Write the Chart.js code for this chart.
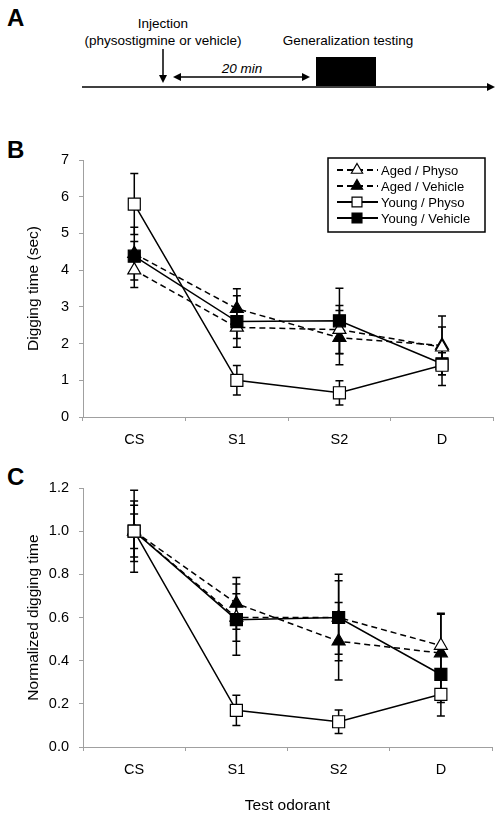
<!DOCTYPE html>
<html>
<head>
<meta charset="utf-8">
<script src="https://cdn.jsdelivr.net/npm/chart.js@4.4.0/dist/chart.umd.min.js"></script>
<style>
body { margin: 0; width: 503px; height: 817px; background: #fff; position: relative; overflow: hidden; }
#art { position: absolute; left: 0; top: 0; }
#boxB { position: absolute; left: 0; top: 115px; width: 503px; height: 335px; }
#boxC { position: absolute; left: 0; top: 455px; width: 503px; height: 362px; }
</style>
</head>
<body>
<svg id="art" width="503" height="817" font-family="Liberation Sans, Arial, sans-serif">
  <text x="7" y="26" font-size="24" font-weight="bold">A</text>
  <text x="7" y="158" font-size="24" font-weight="bold">B</text>
  <text x="7" y="485" font-size="24" font-weight="bold">C</text>

  <text x="163" y="28" font-size="13.5" text-anchor="middle">Injection</text>
  <text x="163" y="45" font-size="13.5" text-anchor="middle">(physostigmine or vehicle)</text>
  <text x="348" y="45" font-size="13.5" text-anchor="middle">Generalization testing</text>
  <text x="242" y="73" font-size="13.5" font-style="italic" text-anchor="middle">20 min</text>

  <line x1="163" y1="49" x2="163" y2="76" stroke="#000" stroke-width="1.5"/>
  <polygon points="159,75 167,75 163,83" fill="#000"/>
  <line x1="180" y1="77" x2="303" y2="77" stroke="#000" stroke-width="1.5"/>
  <polygon points="173,77 181,73 181,81" fill="#000"/>
  <polygon points="310,77 302,73 302,81" fill="#000"/>
  <rect x="316" y="57" width="60" height="29" fill="#000"/>
  <line x1="82" y1="87" x2="488" y2="87" stroke="#000" stroke-width="1.5"/>
  <polygon points="487,83 495,87 487,91" fill="#000"/>
</svg>
<div id="boxB"><canvas id="chartB"></canvas></div>
<div id="boxC"><canvas id="chartC"></canvas></div>
<script>
var categories = ['CS', 'S1', 'S2', 'D'];

// panel B: digging time (sec), means and SEM
var agedPhysoB = [4.0, 2.44, 2.38, 1.9];
var agedPhysoErrB = [0.47, 0.3, 0.66, 0.55];
var agedVehicleB = [4.45, 2.95, 2.16, 1.95];
var agedVehicleErrB = [0.72, 0.54, 0.74, 0.8];
var youngPhysoB = [5.8, 1.0, 0.66, 1.41];
var youngPhysoErrB = [0.83, 0.4, 0.33, 0.55];
var youngVehicleB = [4.38, 2.6, 2.62, 1.45];
var youngVehicleErrB = [0.4, 0.7, 0.89, 0.3];

// panel C: normalized digging time
var agedPhysoC = [1.0, 0.6, 0.6, 0.47];
var agedPhysoErrC = [0.12, 0.11, 0.17, 0.15];
var agedVehicleC = [1.0, 0.665, 0.49, 0.435];
var agedVehicleErrC = [0.19, 0.12, 0.18, 0.18];
var youngPhysoC = [1.0, 0.17, 0.117, 0.244];
var youngPhysoErrC = [0.14, 0.07, 0.055, 0.1];
var youngVehicleC = [1.0, 0.59, 0.6, 0.336];
var youngVehicleErrC = [0.08, 0.165, 0.2, 0.13];

var ticksB = [0, 1, 2, 3, 4, 5, 6, 7];
var ticksC = [0, 0.2, 0.4, 0.6, 0.8, 1.0, 1.2];

var FONT = 'Liberation Sans, Arial, sans-serif';
var AXIS = '#a0a0a0';

// draw vertical error bars under the markers
var errorBars = {
	id: 'errorBars',
	beforeDatasetsDraw: function(chart) {
		var ctx = chart.ctx;
		var y = chart.scales.y;
		chart.data.datasets.forEach(function(ds, i) {
			var meta = chart.getDatasetMeta(i);
			ctx.save();
			ctx.strokeStyle = '#000';
			ctx.lineWidth = 1.5;
			meta.data.forEach(function(pt, j) {
				var top = y.getPixelForValue(ds.data[j] + ds.errors[j]);
				var bot = y.getPixelForValue(ds.data[j] - ds.errors[j]);
				ctx.beginPath();
				ctx.moveTo(pt.x, top); ctx.lineTo(pt.x, bot);
				ctx.moveTo(pt.x - 4, top); ctx.lineTo(pt.x + 4, top);
				ctx.moveTo(pt.x - 4, bot); ctx.lineTo(pt.x + 4, bot);
				ctx.stroke();
			});
			ctx.restore();
		});
	}
};

// boxed legend with line + marker samples
var boxLegend = {
	id: 'boxLegend',
	afterDraw: function(chart, args, opts) {
		if (!opts.show) return;
		var ctx = chart.ctx;
		ctx.save();
		ctx.strokeStyle = '#000';
		ctx.lineWidth = 1.5;
		ctx.strokeRect(opts.x, opts.y, opts.w, opts.h);
		chart.data.datasets.forEach(function(ds, i) {
			var ry = opts.y + opts.rows[i];
			ctx.save();
			ctx.lineWidth = 2;
			ctx.setLineDash(ds.borderDash || []);
			ctx.beginPath();
			ctx.moveTo(opts.x + 9, ry);
			ctx.lineTo(opts.x + 50, ry);
			ctx.stroke();
			ctx.restore();
			ctx.fillStyle = ds.pointBackgroundColor;
			ctx.strokeStyle = '#000';
			ctx.lineWidth = 1.2;
			Chart.helpers.drawPoint(ctx, {
				pointStyle: ds.pointStyle,
				radius: ds.pointStyle === 'rect' ? 7 : 6.5,
				rotation: 0,
				borderWidth: 1.2
			}, opts.x + 29, ry);
			ctx.fillStyle = '#000';
			ctx.font = '13px ' + FONT;
			ctx.textBaseline = 'middle';
			ctx.fillText(ds.label, opts.x + 53, ry + 1);
		});
		ctx.restore();
	}
};

function series(label, data, errors, aged, open, order) {
	return {
		label: label,
		data: data,
		errors: errors,
		order: order,
		borderColor: '#000',
		borderWidth: 1.5,
		borderDash: aged ? [6, 4] : [],
		tension: 0,
		fill: false,
		pointStyle: aged ? 'triangle' : 'rect',
		pointRadius: aged ? 7.5 : 8.5,
		pointBackgroundColor: open ? '#fff' : '#000',
		pointBorderColor: '#000',
		pointBorderWidth: 1.2
	};
}

function makeChart(id, sets, cfg) {
	return new Chart(document.getElementById(id).getContext('2d'), {
		type: 'line',
		data: { labels: categories, datasets: sets },
		plugins: [errorBars, boxLegend],
		options: {
			responsive: true,
			maintainAspectRatio: false,
			animation: false,
			events: [],
			layout: { padding: { left: 0, right: cfg.right, top: cfg.top, bottom: 0 } },
			plugins: {
				legend: { display: false },
				tooltip: { enabled: false },
				boxLegend: cfg.legend
			},
			scales: {
				x: {
					type: 'category',
					offset: true,
					grid: { offset: true, drawOnChartArea: false, drawTicks: true, tickLength: 4, color: AXIS },
					border: { color: AXIS, width: 1 },
					ticks: { color: '#000', font: { size: 14.5, family: FONT }, padding: 10 },
					title: {
						display: !!cfg.xTitle,
						text: cfg.xTitle || '',
						color: '#000',
						font: { size: 15.5, family: FONT },
						padding: { top: 0, bottom: 2 }
					},
					afterFit: function(s) { s.height = cfg.xHeight; }
				},
				y: {
					min: cfg.ticks[0],
					max: cfg.ticks[cfg.ticks.length - 1],
					grid: { drawOnChartArea: false, drawTicks: true, tickLength: 4, color: AXIS },
					border: { color: AXIS, width: 1 },
					afterBuildTicks: function(s) {
						s.ticks = cfg.ticks.map(function(v) { return { value: v }; });
					},
					ticks: {
						color: '#000',
						font: { size: 14.5, family: FONT },
						padding: 10,
						callback: function(v) { return v.toFixed(cfg.decimals); }
					},
					title: {
						display: true,
						text: cfg.yTitle,
						color: '#000',
						font: { size: 15.5, family: FONT },
						padding: { top: 24, bottom: 0 }
					},
					afterFit: function(s) { s.width = 83; }
				}
			}
		}
	});
}

makeChart('chartB', [
	series('Aged / Physo', agedPhysoB, agedPhysoErrB, true, true, 2),
	series('Aged / Vehicle', agedVehicleB, agedVehicleErrB, true, false, 3),
	series('Young / Physo', youngPhysoB, youngPhysoErrB, false, true, 0),
	series('Young / Vehicle', youngVehicleB, youngVehicleErrB, false, false, 1)
], {
	top: 45, right: 7, xHeight: 33, ticks: ticksB, decimals: 0,
	yTitle: 'Digging time (sec)',
	legend: { show: true, x: 328, y: 43, w: 157, h: 74, rows: [12, 28, 44, 60] }
});

makeChart('chartC', [
	series('Aged / Physo', agedPhysoC, agedPhysoErrC, true, true, 2),
	series('Aged / Vehicle', agedVehicleC, agedVehicleErrC, true, false, 3),
	series('Young / Physo', youngPhysoC, youngPhysoErrC, false, true, 0),
	series('Young / Vehicle', youngVehicleC, youngVehicleErrC, false, false, 1)
], {
	top: 33, right: 11, xHeight: 70, ticks: ticksC, decimals: 1,
	yTitle: 'Normalized digging time', xTitle: 'Test odorant',
	legend: { show: false }
});
</script>
</body>
</html>
